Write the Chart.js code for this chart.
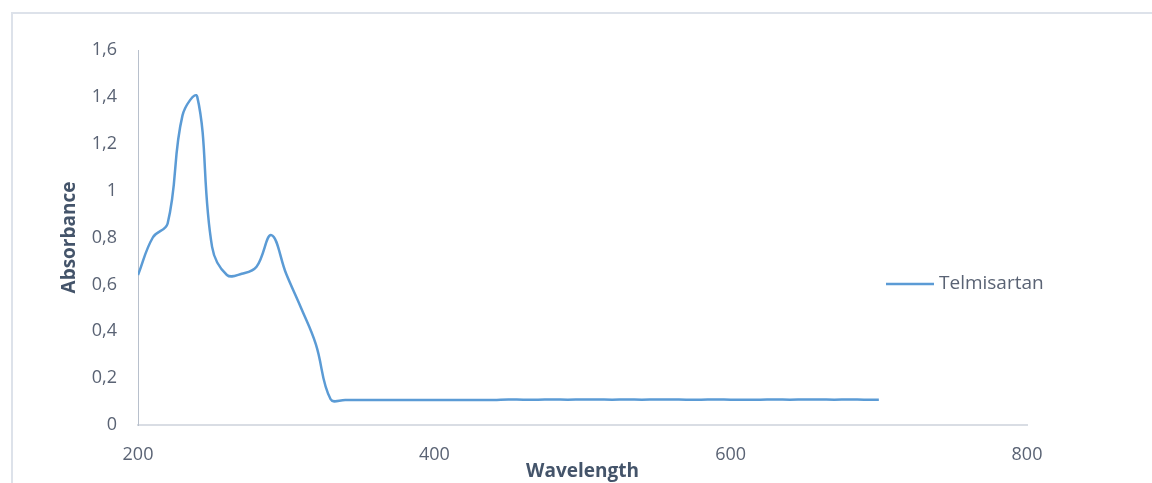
<!DOCTYPE html>
<html>
<head>
<meta charset="utf-8">
<script src="https://cdn.jsdelivr.net/npm/chart.js@4"></script>
<style>
  html, body { margin: 0; padding: 0; background: #fff; overflow: hidden; }
  #wrap { position: relative; width: 1152px; height: 483px; }
  #frame {
    position: absolute; left: 11px; top: 12px; width: 1300px; height: 600px;
    border: 2px solid #dde2ea; box-sizing: border-box;
  }
  canvas { position: absolute; left: 0; top: 0; }
</style>
</head>
<body>
<div id="wrap">
  <div id="frame"></div>
  <canvas id="spectrum" width="1152" height="483"></canvas>
</div>
<script>
const seriesName = "Telmisartan";
const wavelengths = [
  200, 210, 220, 230, 240, 250, 260, 270, 280, 290,
  300, 310, 320, 330, 340, 350, 360, 370, 380, 390,
  400, 410, 420, 430, 440, 450, 460, 470, 480, 490,
  500, 510, 520, 530, 540, 550, 560, 570, 580, 590,
  600, 610, 620, 630, 640, 650, 660, 670, 680, 690, 700
];
const absorbance = [
  0.64, 0.80, 0.86, 1.32, 1.40, 0.76, 0.64, 0.645, 0.675, 0.81,
  0.645, 0.50, 0.345, 0.11, 0.107, 0.107, 0.107, 0.107, 0.107, 0.107,
  0.107, 0.107, 0.107, 0.107, 0.107, 0.109, 0.108, 0.108, 0.109, 0.108,
  0.109, 0.109, 0.108, 0.109, 0.108, 0.109, 0.109, 0.108, 0.108, 0.109,
  0.108, 0.108, 0.108, 0.109, 0.108, 0.109, 0.109, 0.108, 0.109, 0.108, 0.108
];
const yTickLabels = ["0", "0,2", "0,4", "0,6", "0,8", "1", "1,2", "1,4", "1,6"];
const xTickLabels = ["200", "400", "600", "800"];

const textColor = "#5a6374";
const titleColor = "#44546a";
const lineColor = "#5b9bd5";

// legend drawn to the right of the plot, Excel style
const sideLegend = {
  id: "sideLegend",
  afterDraw(chart) {
    const ctx = chart.ctx;
    const ds = chart.data.datasets[0];
    ctx.save();
    ctx.strokeStyle = ds.borderColor;
    ctx.lineWidth = 2.5;
    ctx.beginPath();
    ctx.moveTo(886, 284);
    ctx.lineTo(934, 284);
    ctx.stroke();
    ctx.fillStyle = textColor;
    ctx.font = "19px 'Open Sans'";
    ctx.textBaseline = "middle";
    ctx.fillText(ds.label, 939, 284);
    ctx.restore();
  }
};

new Chart(document.getElementById("spectrum"), {
  type: "line",
  data: {
    datasets: [{
      label: seriesName,
      data: wavelengths.map((w, i) => ({ x: w, y: absorbance[i] })),
      borderColor: lineColor,
      borderWidth: 2.5,
      pointRadius: 0,
      tension: 0.4,
      fill: false
    }]
  },
  options: {
    responsive: false,
    animation: false,
    layout: { padding: { top: 50, right: 125, left: 0, bottom: 0 } },
    plugins: { legend: { display: false }, tooltip: { enabled: false } },
    scales: {
      x: {
        type: "linear",
        min: 200,
        max: 800,
        afterFit(scale) { scale.height = 58; },
        afterBuildTicks(scale) {
          scale.ticks = xTickLabels.map(t => ({ value: Number(t) }));
        },
        grid: { display: false, drawTicks: false },
        border: { display: true, color: "#d9dde4", width: 2 },
        ticks: {
          padding: 19,
          color: textColor,
          font: { family: "Open Sans", size: 18 },
          maxRotation: 0,
          callback: (v, i) => xTickLabels[i]
        },
        title: {
          display: true,
          text: "Wavelength",
          color: titleColor,
          font: { family: "Open Sans", size: 19, weight: "bold" },
          padding: { top: 0, bottom: 0 }
        }
      },
      y: {
        min: 0,
        max: 1.6,
        afterFit(scale) { scale.width = 138; },
        afterBuildTicks(scale) {
          scale.ticks = yTickLabels.map((t, i) => ({ value: i * 0.2 }));
        },
        grid: { display: false, drawTicks: false },
        border: { display: true, color: "#b8c0cc", width: 1 },
        ticks: {
          padding: 21,
          color: textColor,
          font: { family: "Open Sans", size: 18 },
          callback: (v, i) => yTickLabels[i]
        },
        title: {
          display: true,
          text: "Absorbance",
          color: titleColor,
          font: { family: "Open Sans", size: 19, weight: "bold" },
          padding: { top: 58, bottom: 0 }
        }
      }
    }
  },
  plugins: [sideLegend]
});
</script>
</body>
</html>
